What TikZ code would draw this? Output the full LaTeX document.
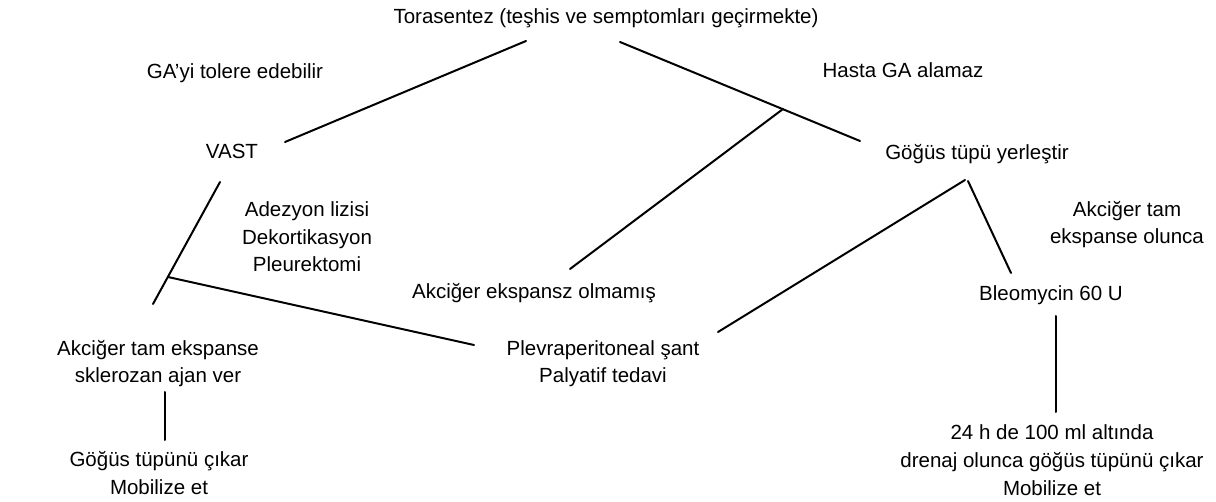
\documentclass[tikz,border=0pt]{standalone}
\usepackage{fontspec}
\setmainfont{Liberation Sans}
\begin{document}
\begin{tikzpicture}[x=1pt,y=-1pt,
  lbl/.style={anchor=base, inner sep=0pt, align=center, font=\fontsize{20.5}{27.5}\selectfont},
  conn/.style={line width=2pt, line cap=round}]
\useasboundingbox[fill=white] (0,0) rectangle (1216,502);
% texts (multi-line nodes: base anchor = baseline of last line)
\node[lbl] (tora) at (606,24) {Torasentez (teşhis ve semptomları geçirmekte)};
\node[lbl] (gayi) at (235,79) {GA'yi tolere edebilir};
\node[lbl] (hasta) at (903,78) {Hasta GA alamaz};
\node[lbl] (vast) at (232,159) {VAST};
\node[lbl] (gogus) at (977,160) {Göğüs tüpü yerleştir};
\node[lbl] (adez) at (307,272) {Adezyon lizisi\\Dekortikasyon\\Pleurektomi};
\node[lbl] (akctam1) at (1127,244) {Akciğer tam\\ekspanse olunca};
\node[lbl] (akcexp) at (534,299) {Akciğer ekspansz olmamış};
\node[lbl] (bleo) at (1051,301) {Bleomycin 60 U};
\node[lbl] (akctam2) at (158,383) {Akciğer tam ekspanse\\sklerozan ajan ver};
\node[lbl] (plevra) at (603,383) {Plevraperitoneal şant\\Palyatif tedavi};
\node[lbl] (gogcik) at (159,494) {Göğüs tüpünü çıkar\\Mobilize et};
\node[lbl] (h24) at (1052,495) {24 h de 100 ml altında\\drenaj olunca göğüs tüpünü çıkar\\Mobilize et};
% connector ends
\coordinate (c1a) at (526,41);  \coordinate (c1b) at (285,142);
\coordinate (c2a) at (620,42);  \coordinate (c2b) at (860,141);
\coordinate (j1) at (783,109);  \coordinate (c3b) at (570,269);
\coordinate (c4a) at (220,182); \coordinate (c4b) at (153,304);
\coordinate (j2) at (168,277);  \coordinate (c5b) at (474,345);
\coordinate (c6a) at (965,180); \coordinate (c6b) at (718,332);
\coordinate (c7a) at (968,181); \coordinate (c7b) at (1011,273);
\coordinate (c8a) at (1056,316); \coordinate (c8b) at (1056,412);
\coordinate (c9a) at (165,392); \coordinate (c9b) at (165,440);
% connectors
\draw[conn] (c1a) -- (c1b);
\draw[conn] (c2a) -- (c2b);
\draw[conn] (j1) -- (c3b);
\draw[conn] (c4a) -- (c4b);
\draw[conn] (j2) -- (c5b);
\draw[conn] (c6a) -- (c6b);
\draw[conn] (c7a) -- (c7b);
\draw[conn] (c8a) -- (c8b);
\draw[conn] (c9a) -- (c9b);
\end{tikzpicture}
\end{document}
